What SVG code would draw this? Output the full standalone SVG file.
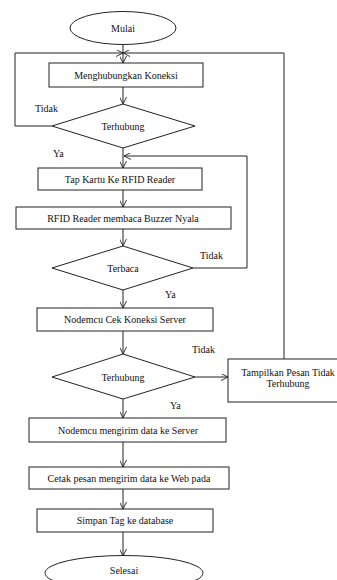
<svg xmlns="http://www.w3.org/2000/svg" width="337" height="580" viewBox="0 0 337 580">
<defs>
<marker id="arr" viewBox="0 0 10 10" refX="10" refY="5" markerWidth="7" markerHeight="7" orient="auto" markerUnits="userSpaceOnUse">
<path d="M0,0 L10,5 L0,10" fill="none" stroke="#222" stroke-width="1.3"/>
</marker>
</defs>
<style>
.s{fill:#fff;stroke:#222;stroke-width:1}
.t{font-family:"Liberation Serif","Times New Roman",serif;font-size:10px;fill:#111;text-anchor:middle;dominant-baseline:central}
.l{font-family:"Liberation Serif","Times New Roman",serif;font-size:10px;fill:#111}
.c{fill:none;stroke:#222;stroke-width:1}
</style>
<rect width="337" height="580" fill="#fff"/>
<g id="connectors">
<line class="c" x1="123" y1="45" x2="123" y2="63" marker-end="url(#arr)"/>
<polyline class="c" points="52,126 15,126 15,53 123,53" marker-end="url(#arr)"/>
<polyline class="c" points="284,359 284,53 123,53" marker-end="url(#arr)"/>
<line class="c" x1="123" y1="87" x2="123" y2="104" marker-end="url(#arr)"/>
<line class="c" x1="123" y1="148" x2="123" y2="168" marker-end="url(#arr)"/>
<polyline class="c" points="193,268 247,268 247,156 124,156" marker-end="url(#arr)"/>
<line class="c" x1="123" y1="190" x2="123" y2="207" marker-end="url(#arr)"/>
<line class="c" x1="123" y1="229" x2="123" y2="246" marker-end="url(#arr)"/>
<line class="c" x1="123" y1="290" x2="123" y2="308" marker-end="url(#arr)"/>
<line class="c" x1="123" y1="331" x2="123" y2="354" marker-end="url(#arr)"/>
<line class="c" x1="195" y1="377" x2="228" y2="377" marker-end="url(#arr)"/>
<line class="c" x1="123" y1="399" x2="123" y2="418" marker-end="url(#arr)"/>
<line class="c" x1="123" y1="442" x2="123" y2="467" marker-end="url(#arr)"/>
<line class="c" x1="123" y1="489" x2="123" y2="509" marker-end="url(#arr)"/>
<line class="c" x1="123" y1="532" x2="123" y2="556" marker-end="url(#arr)"/>
<text class="l" x="35" y="112">Tidak</text>
<text class="l" x="53" y="157">Ya</text>
<text class="l" x="200" y="259">Tidak</text>
<text class="l" x="165" y="298">Ya</text>
<text class="l" x="192" y="353">Tidak</text>
<text class="l" x="170" y="409">Ya</text>
</g>
<g id="mulai"><ellipse class="s" cx="123" cy="28" rx="53" ry="16.5"/><text class="t" x="123" y="28">Mulai</text></g>
<g id="menghubungkan"><rect class="s" x="49" y="63" width="154" height="24"/><text class="t" x="126" y="75">Menghubungkan Koneksi</text></g>
<g id="terhubung1"><polygon class="s" points="123,104 195,126 123,148 52,126"/><text class="t" x="123" y="126">Terhubung</text></g>
<g id="tapkartu"><rect class="s" x="38" y="168" width="164" height="22"/><text class="t" x="120" y="179">Tap Kartu Ke RFID Reader</text></g>
<g id="rfidreader"><rect class="s" x="16" y="207" width="215" height="22"/><text class="t" x="123" y="218">RFID Reader membaca Buzzer Nyala</text></g>
<g id="terbaca"><polygon class="s" points="123,246 193,268 123,290 52,268"/><text class="t" x="123" y="268">Terbaca</text></g>
<g id="cekkoneksi"><rect class="s" x="37" y="308" width="176" height="23"/><text class="t" x="125" y="319">Nodemcu Cek Koneksi Server</text></g>
<g id="terhubung2"><polygon class="s" points="123,354 195,377 123,399 52,377"/><text class="t" x="123" y="377">Terhubung</text></g>
<g id="tampilkan"><rect class="s" x="228" y="359" width="115" height="43"/><text class="t" x="288" y="372">Tampilkan Pesan Tidak</text><text class="t" x="288" y="383">Terhubung</text></g>
<g id="mengirim"><rect class="s" x="29" y="418" width="197" height="24"/><text class="t" x="128" y="430">Nodemcu mengirim data ke Server</text></g>
<g id="cetak"><rect class="s" x="29" y="467" width="200" height="22"/><text class="t" x="129" y="478">Cetak pesan mengirim data ke Web pada</text></g>
<g id="simpan"><rect class="s" x="37" y="509" width="176" height="23"/><text class="t" x="125" y="520">Simpan Tag ke database</text></g>
<g id="selesai"><ellipse class="s" cx="124" cy="573" rx="79" ry="17.5"/><text class="t" x="124" y="570">Selesai</text></g>
</svg>
